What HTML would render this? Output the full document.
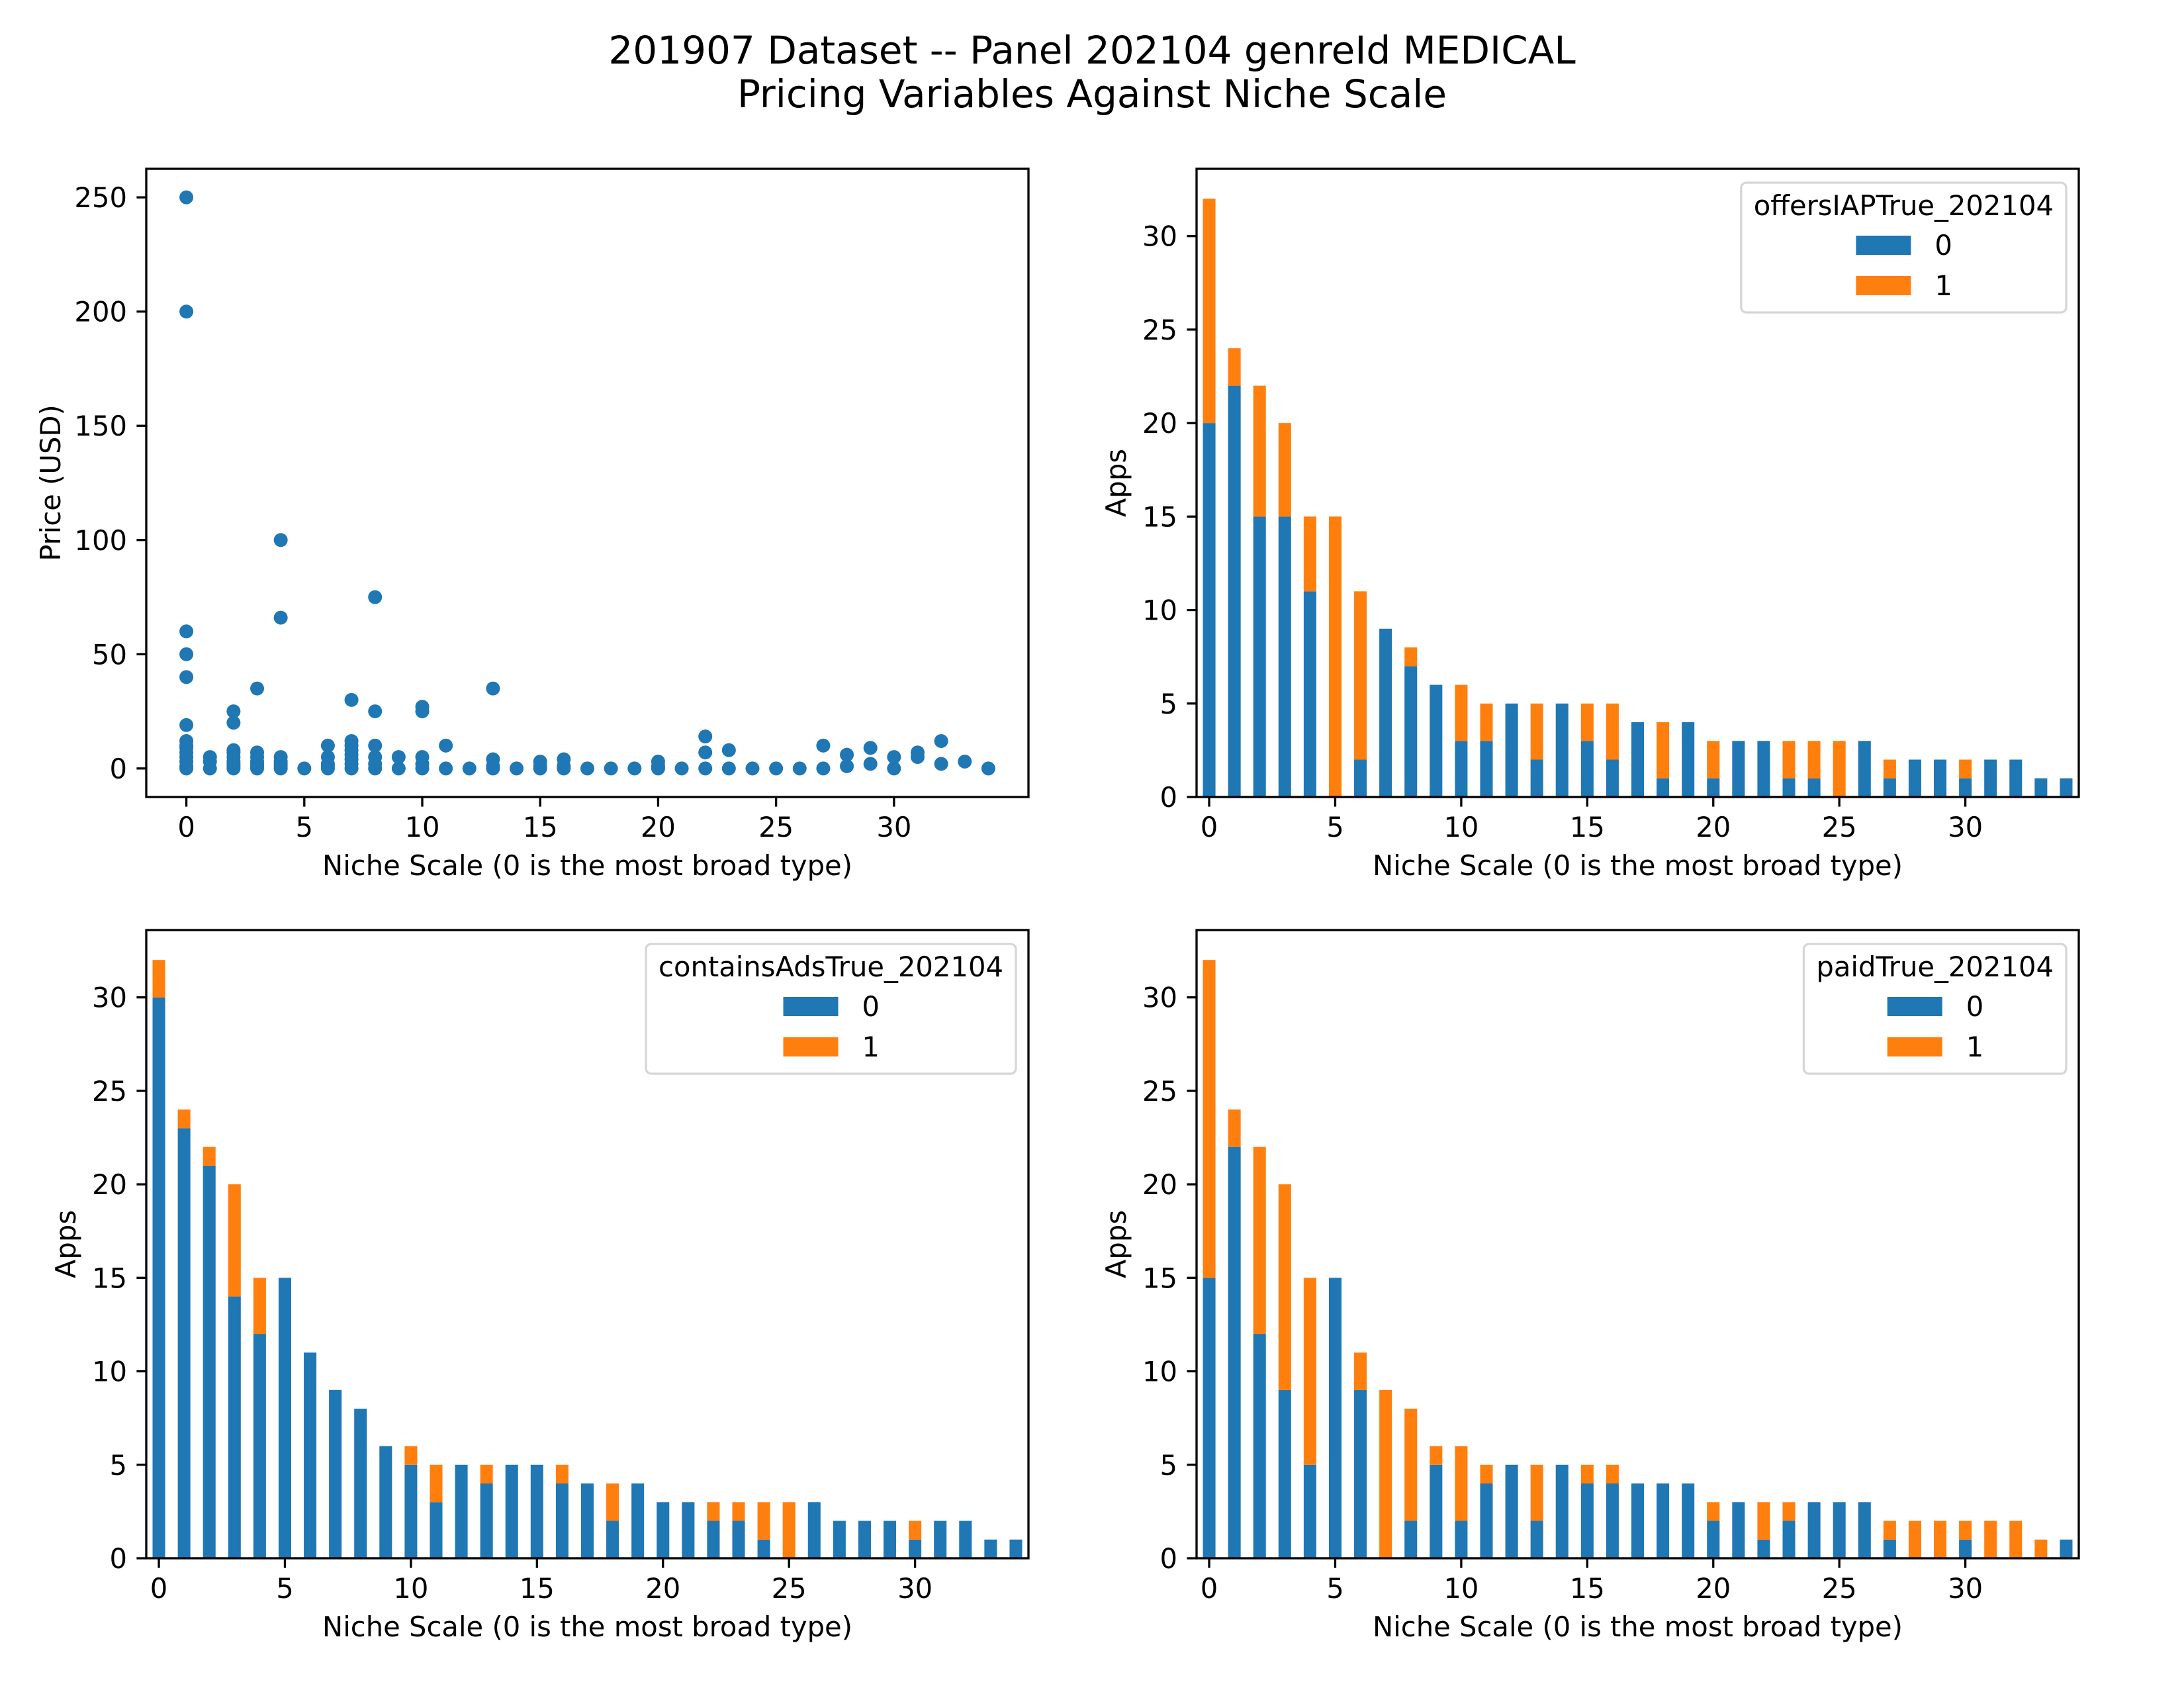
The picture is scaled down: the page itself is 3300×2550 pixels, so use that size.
<!DOCTYPE html>
<html><head><meta charset="utf-8"><style>
html,body{margin:0;padding:0;background:#fff;}
svg{display:block;font-family:"DejaVu Sans","Liberation Sans",sans-serif;}
</style></head><body>
<svg id="fig" width="3300" height="2550" viewBox="0 0 3300 2550" xmlns="http://www.w3.org/2000/svg">
<rect x="0" y="0" width="3300" height="2550" fill="#fff"/>
<text x="1650" y="96" font-size="58" text-anchor="middle">201907 Dataset -- Panel 202104 genreId MEDICAL</text>
<text x="1650" y="162" font-size="58" text-anchor="middle">Pricing Variables Against Niche Scale</text>
</svg>
<script>
// ---- data ----
const scatterX = [0,0,0,0,0,0,0,0,0,0,0,0,0,0, 1,1,1, 2,2,2,2,2,2,2,2,2, 3,3,3,3,3,3,3, 4,4,4,4,4,4,4, 5, 6,6,6,6,6, 7,7,7,7,7,7,7,7, 8,8,8,8,8,8, 9,9, 10,10,10,10,10, 11,11, 12, 13,13,13,13, 14, 15,15,15, 16,16,16, 17, 18, 19, 20,20,20, 21, 22,22,22, 23,23, 24, 25, 26, 27,27, 28,28, 29,29, 30,30, 31,31, 32,32, 33, 34];
const scatterPrice = [250,200,60,50,40,19,12,10,9,7,5,3,1,0, 0,3,5, 0,1,2,3,5,7,8,20,25, 0,1,2,3,5,7,35, 0,1,2,3,5,66,100, 0, 0,1,2,5,10, 0,2,4,6,8,10,12,30, 0,2,5,10,25,75, 0,5, 0,2,5,25,27, 0,10, 0, 0,1,4,35, 0, 0,1,3, 0,1,4, 0, 0, 0, 0,1,3, 0, 0,7,14, 0,8, 0, 0, 0, 0,10, 1,6, 2,9, 0,5, 5,7, 2,12, 3, 0];
const nicheCategories = [0,1,2,3,4,5,6,7,8,9,10,11,12,13,14,15,16,17,18,19,20,21,22,23,24,25,26,27,28,29,30,31,32,33,34];
const iapFalse = [20,22,15,15,11,0,2,9,7,6,3,3,5,2,5,3,2,4,1,4,1,3,3,1,1,0,3,1,2,2,1,2,2,1,1];
const iapTrue  = [12,2,7,5,4,15,9,0,1,0,3,2,0,3,0,2,3,0,3,0,2,0,0,2,2,3,0,1,0,0,1,0,0,0,0];
const adsFalse = [30,23,21,14,12,15,11,9,8,6,5,3,5,4,5,5,4,4,2,4,3,3,2,2,1,0,3,2,2,2,1,2,2,1,1];
const adsTrue  = [2,1,1,6,3,0,0,0,0,0,1,2,0,1,0,0,1,0,2,0,0,0,1,1,2,3,0,0,0,0,1,0,0,0,0];
const paidFalse = [15,22,12,9,5,15,9,0,2,5,2,4,5,2,5,4,4,4,4,4,2,3,1,2,3,3,3,1,0,0,1,0,0,0,1];
const paidTrue  = [17,2,10,11,10,0,2,9,6,1,4,1,0,3,0,1,1,0,0,0,1,0,2,1,0,0,0,1,2,2,1,2,2,1,0];
const scatterYTicks = [0,50,100,150,200,250];
const xTicks = [0,5,10,15,20,25,30];
const barYTicks = [0,5,10,15,20,25,30];

const NS = "http://www.w3.org/2000/svg";
const svg = document.getElementById('fig');
const BLUE = "#1f77b4", ORANGE = "#ff7f0e";
function mk(tag, attrs, parent) {
  const e = document.createElementNS(NS, tag);
  for (const k in attrs) e.setAttribute(k, attrs[k]);
  (parent || svg).appendChild(e);
  return e;
}
function txt(s, attrs, parent) { const t = mk('text', attrs, parent); t.textContent = s; return t; }

function axesFrame(g, L, T, W, H, xmin, xmax, ymin, ymax, yTicks, xTicksArr, ylabel, prefix) {
  const sx = v => L + (v - xmin) / (xmax - xmin) * W;
  const sy = v => T + H - (v - ymin) / (ymax - ymin) * H;
  return {sx, sy, finish: function () {
    const f = mk('rect', {x: L, y: T, width: W, height: H, fill: 'none', stroke: '#000', 'stroke-width': 3.3}, g);
    
    
    for (const v of yTicks) {
      const y = sy(v);
      const tl = mk('line', {x1: L - 14.6, x2: L, y1: y, y2: y, stroke: '#000', 'stroke-width': 3.3}, g);
      
      
      const tt = txt(String(v), {x: L - 29, y: y + 15, 'font-size': 41.7, 'text-anchor': 'end'}, g);
      
      
    }
    for (const v of xTicksArr) {
      const x = sx(v);
      const tl = mk('line', {x1: x, x2: x, y1: T + H, y2: T + H + 14.6, stroke: '#000', 'stroke-width': 3.3}, g);
      
      
      const tt = txt(String(v), {x: x, y: T + H + 60, 'font-size': 41.7, 'text-anchor': 'middle'}, g);
      
      
    }
    const xl = txt('Niche Scale (0 is the most broad type)', {x: L + W / 2, y: T + H + 118, 'font-size': 41.7, 'text-anchor': 'middle'}, g);
    
    
    const lw = ylabel === 'Apps' ? 107 : 130;
    const cx = L - lw;
    const yl = txt(ylabel, {x: cx, y: T + H / 2, 'font-size': 41.7, 'text-anchor': 'middle', transform: 'rotate(-90 ' + cx + ' ' + (T + H / 2) + ')'}, g);
    
    
  }};
}

// ---- scatter ----
(function () {
  const g = mk('g', {});
  
  
  const ax = axesFrame(g, 221, 255, 1333, 949, -1.7, 35.7, -12.5, 262.5, scatterYTicks, xTicks, 'Price (USD)', 'scatter');
  for (let i = 0; i < scatterX.length; i++) {
    const c = mk('circle', {cx: ax.sx(scatterX[i]), cy: ax.sy(scatterPrice[i]), r: 10.5, fill: BLUE}, g);
    
    
  }
  ax.finish();
})();

function barPanel(L, T, bottomVals, topVals, legendTitle, prefix) {
  const W = 1333, H = 949;
  const g = mk('g', {});
  
  
  const ax = axesFrame(g, L, T, W, H, -0.5, 34.5, 0, 33.6, barYTicks, xTicks, 'Apps', prefix);
  for (let i = 0; i < nicheCategories.length; i++) {
    const c = nicheCategories[i];
    const x0 = ax.sx(c - 0.25), bw = ax.sx(c + 0.25) - x0;
    const b = bottomVals[i], t = topVals[i];
    if (b > 0) {
      const r = mk('rect', {x: x0, y: ax.sy(b), width: bw, height: ax.sy(0) - ax.sy(b), fill: BLUE}, g);
      
      
    }
    if (t > 0) {
      const r = mk('rect', {x: x0, y: ax.sy(b + t), width: bw, height: ax.sy(b) - ax.sy(b + t), fill: ORANGE}, g);
      
      
    }
  }
  ax.finish();
  // legend
  const lg = mk('g', {}, g);
  
  
  const right = L + W - 19, top = T + 21;
  const box = mk('rect', {x: 0, y: top, width: 10, height: 196, rx: 8, fill: '#fff', 'fill-opacity': 0.8, stroke: '#d6d6d6', 'stroke-width': 3.3}, lg);
  
  
  const title = txt(legendTitle, {x: 0, y: top + 49, 'font-size': 41.7, 'text-anchor': 'middle'}, lg);
  
  
  let tw = 450;
  try { tw = title.getComputedTextLength(); } catch (e) {}
  const bwid = tw + 38;
  const left = right - bwid;
  box.setAttribute('x', left);
  box.setAttribute('width', bwid);
  const cx = left + bwid / 2;
  title.setAttribute('x', cx);
  const blockLeft = cx - (83 + 36 + 25) / 2;
  const items = [['0', BLUE, top + 80], ['1', ORANGE, top + 141]];
  for (const [lab, col, py] of items) {
    const p = mk('rect', {x: blockLeft, y: py, width: 83, height: 29, fill: col}, lg);
    
    
    const tl = txt(lab, {x: blockLeft + 119, y: py + 29, 'font-size': 41.7}, lg);
    
    
  }
}
barPanel(1808, 255, iapFalse, iapTrue, 'offersIAPTrue_202104', 'iap');
barPanel(221, 1405, adsFalse, adsTrue, 'containsAdsTrue_202104', 'ads');
barPanel(1808, 1405, paidFalse, paidTrue, 'paidTrue_202104', 'paid');
</script>
</body></html>
